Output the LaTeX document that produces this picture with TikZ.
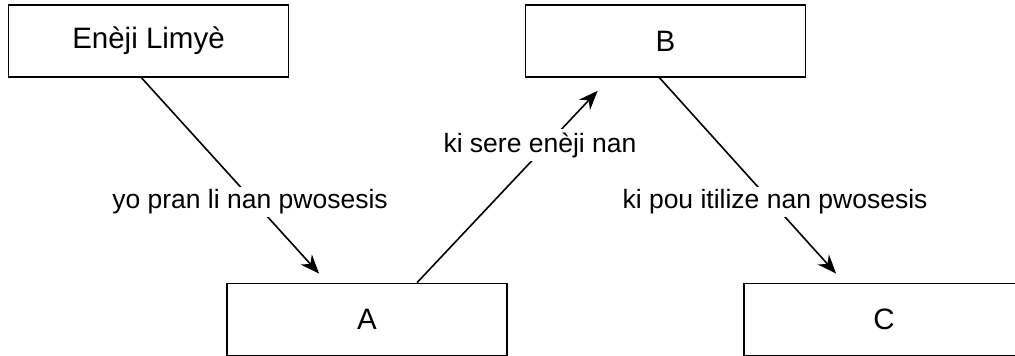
\documentclass[tikz,border=0pt]{standalone}
\usepackage{fontspec}
\setmainfont{Liberation Sans}
\usetikzlibrary{arrows.meta}
\begin{document}
\begin{tikzpicture}[x=1pt,y=1pt,
  box/.style={draw, line width=1.8pt, minimum width=280pt, minimum height=72pt,
    inner sep=0pt, font=\fontsize{29.5}{33}\selectfont},
  conn/.style={line width=1.6pt, -{Stealth[length=19pt,width=15pt,inset=6pt]}},
  lbl/.style={fill=white, inner sep=3pt, font=\fontsize{26.5}{30}\selectfont}]
\useasboundingbox (0,0) rectangle (1015,356);
% boxes
\node[box] (E) at (148.5,315) {Enèji Limyè};
\node[box] (B) at (665.5,315) {B};
\node[box] (A) at (367,36.5) {A};
\node[box] (C) at (884,36.5) {C};
% connectors
\draw[conn] ([xshift=134pt]E.south west) -- ([xshift=93pt,yshift=9pt]A.north west);
\draw[conn] ([xshift=191pt]A.north west) -- ([xshift=73pt,yshift=-13pt]B.south west);
\draw[conn] ([xshift=135pt]B.south west) -- ([xshift=93pt,yshift=9pt]C.north west);
% labels on the connectors
\node[lbl] (l1) at (250,154) {yo pran li nan pwosesis};
\node[lbl] (l2) at (540,211) {ki sere enèji nan};
\node[lbl] (l3) at (775,154) {ki pou itilize nan pwosesis};
\end{tikzpicture}
\end{document}
